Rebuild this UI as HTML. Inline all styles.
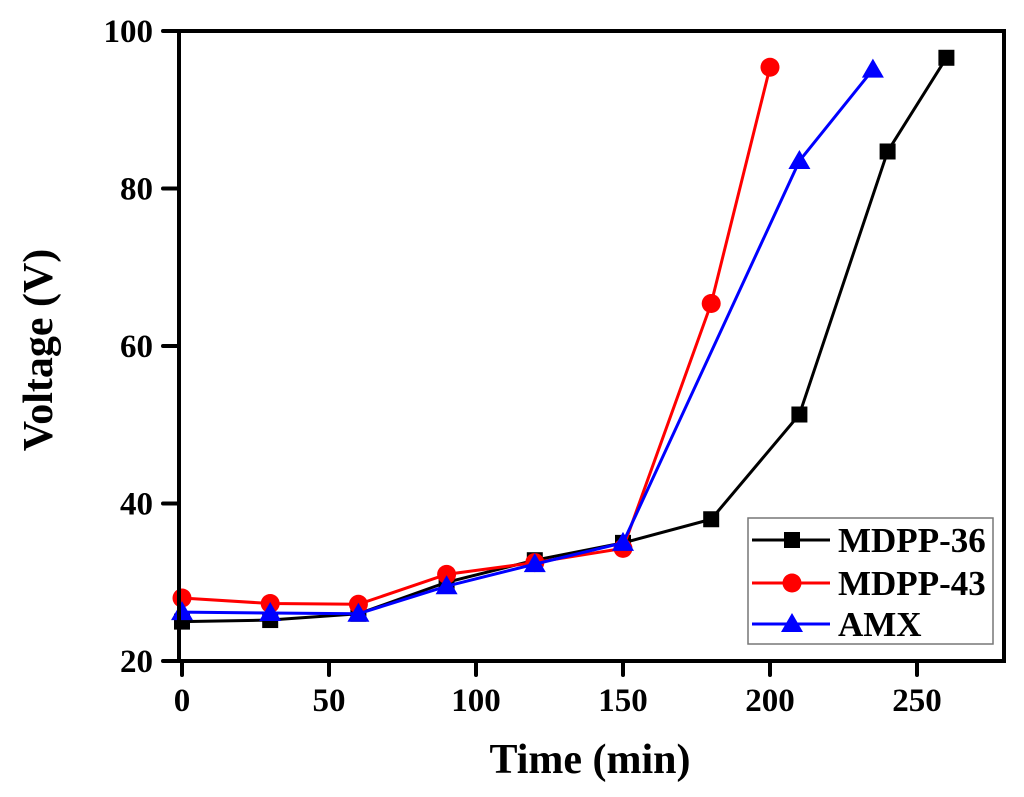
<!DOCTYPE html>
<html><head><meta charset="utf-8"><style>
html,body{margin:0;padding:0;background:#fff;}
svg{display:block;font-family:"Liberation Serif",serif;font-weight:bold;}
</style></head><body>
<svg id="chart" width="1024" height="797" viewBox="0 0 1024 797" xmlns="http://www.w3.org/2000/svg">
<g id="grid"></g>
<g id="series"></g>
<g id="axes"></g>
<g id="legend"></g>
</svg>
<script>
const xTicks=[0,50,100,150,200,250];
const yTicks=[20,40,60,80,100];
const xM36=[0,30,60,90,120,150,180,210,240,260];
const yM36=[25,25.2,26,30,32.8,35,38,51.3,84.7,96.6];
const xM43=[0,30,60,90,120,150,180,200];
const yM43=[28,27.3,27.2,31,32.5,34.3,65.4,95.4];
const xAMX=[0,30,60,90,120,150,210,235];
const yAMX=[26.2,26.1,26,29.5,32.3,35,83.5,95.1];
const seriesNames=["MDPP-36","MDPP-43","AMX"];

const NS="http://www.w3.org/2000/svg";
const L=179,R=1004,T=31,B=661;
function sx(v){return 182+v*2.94;}
function sy(v){return 661-(v-20)*7.875;}
function mk(tag,attrs,parent){const e=document.createElementNS(NS,tag);for(const k in attrs)e.setAttribute(k,attrs[k]);parent.appendChild(e);return e;}
const axes=document.getElementById('axes'),ser=document.getElementById('series'),leg=document.getElementById('legend');

const frame=mk('rect',{x:L,y:T,width:R-L,height:B-T,fill:'none',stroke:'#000','stroke-width':4},axes);


xTicks.forEach(v=>{
  const t=mk('line',{x1:sx(v),x2:sx(v),y1:B,y2:B+14,stroke:'#000','stroke-width':4,'stroke-linecap':'round'},axes);
  
  
  const l=mk('text',{x:sx(v),y:B+50,'text-anchor':'middle','font-size':33},axes);
  l.textContent=v;
  
  
});
yTicks.forEach(v=>{
  const t=mk('line',{x1:L-16,x2:L,y1:sy(v),y2:sy(v),stroke:'#000','stroke-width':4,'stroke-linecap':'round'},axes);
  
  
  const l=mk('text',{x:L-26,y:sy(v)+11,'text-anchor':'end','font-size':33},axes);
  l.textContent=v;
  
  
});
const xt=mk('text',{x:590,y:773,'text-anchor':'middle','font-size':42},axes);
xt.textContent='Time (min)';


const yt=mk('text',{x:0,y:0,'text-anchor':'middle','font-size':42,transform:'translate(52,350) rotate(-90)'},axes);
yt.textContent='Voltage (V)';



function marker(type,x,y,color,parent){
  let e;
  if(type==='sq') e=mk('rect',{x:x-8,y:y-8,width:16,height:16,fill:color},parent);
  else if(type==='ci') e=mk('circle',{cx:x,cy:y,r:9.5,fill:color},parent);
  else e=mk('polygon',{points:`${x},${y-11} ${x+11},${y+8} ${x-11},${y+8}`,fill:color},parent);
  return e;
}
const defs=[[xM36,yM36,'#000','sq'],[xM43,yM43,'#ff0000','ci'],[xAMX,yAMX,'#0000ff','tr']];
defs.forEach((d,i)=>{
  const g=mk('g',{},ser);
  
  
  const pts=d[0].map((x,j)=>sx(x)+','+sy(d[1][j])).join(' ');
  const pl=mk('polyline',{points:pts,fill:'none',stroke:d[2],'stroke-width':3},g);
  
  
  d[0].forEach((x,j)=>{
    const m=marker(d[3],sx(x),sy(d[1][j]),d[2],g);
    
    
  });
});
const lb=mk('rect',{x:748,y:518,width:245,height:126,fill:'#fff',stroke:'#777','stroke-width':1.5},leg);


const ly=[540,583,624];
defs.forEach((d,i)=>{
  const g=mk('g',{},leg);
  
  
  mk('line',{x1:752,x2:830,y1:ly[i],y2:ly[i],stroke:d[2],'stroke-width':3},g);
  marker(d[3],792,ly[i],d[2],g);
  const t=mk('text',{x:838,y:ly[i]+12,'font-size':35},g);
  t.textContent=seriesNames[i];
});
</script>
</body></html>
